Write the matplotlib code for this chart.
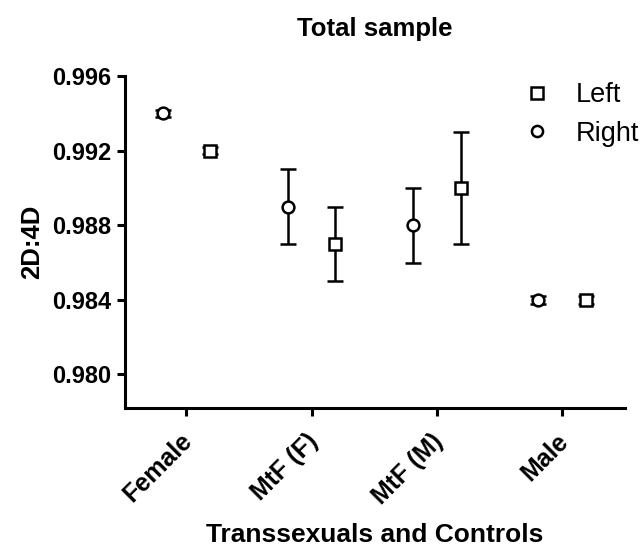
import numpy as np
import matplotlib.pyplot as plt
import matplotlib.transforms as mtransforms
from matplotlib.lines import Line2D

plt.rcParams['font.family'] = ['Liberation Sans', 'DejaVu Sans']

groups = ["Female", "MtF (F)", "MtF (M)", "Male"]
left_mean = [0.992, 0.987, 0.990, 0.984]
left_err = [0.0002, 0.002, 0.003, 0.0002]
right_mean = [0.994, 0.989, 0.988, 0.984]
right_err = [0.0002, 0.002, 0.002, 0.0002]

x = np.arange(len(groups))
off = 0.19

fig = plt.figure(figsize=(6.44, 5.47), dpi=100)
ax = fig.add_axes([0.194, 0.254, 0.776, 0.607])

style = dict(mfc="white", mec="black", mew=1.8, ms=8.5, ecolor="black",
             elinewidth=1.8, capsize=5.8, capthick=1.8)
ax.errorbar(x + off, left_mean, yerr=left_err, fmt="s", **style)
ax.errorbar(x - off, right_mean, yerr=right_err, fmt="o", **style)

ax.set_xlim(-0.49, 3.5)
ax.set_ylim(0.9782, 0.996)
ax.set_yticks([0.980, 0.984, 0.988, 0.992, 0.996])
ax.set_yticklabels(["0.980", "0.984", "0.988", "0.992", "0.996"], fontweight="bold", fontsize=17)
ax.set_xticks(x)
ax.set_xticklabels(groups, rotation=45, ha="right", rotation_mode="anchor",
                   fontweight="bold", fontsize=18)

for s in ["top", "right"]:
    ax.spines[s].set_visible(False)
for s in ["left", "bottom"]:
    ax.spines[s].set_linewidth(2.2)
ax.tick_params(width=2.2, length=6)
ax.tick_params(axis="x", pad=9)

# nudge the slanted labels a little to the left
shift = mtransforms.ScaledTranslation(-0.06, 0, fig.dpi_scale_trans)
for lab in ax.get_xticklabels():
    lab.set_transform(lab.get_transform() + shift)

ax.set_title("Total sample", fontweight="bold", fontsize=18.5, pad=29)
ax.set_ylabel("2D:4D", fontweight="bold", fontsize=18.5, labelpad=6)
ax.set_xlabel("Transsexuals and Controls", fontweight="bold", fontsize=19, labelpad=10)

handles = [Line2D([], [], ls="none", marker="s", mfc="white", mec="black", mew=1.8, ms=8),
           Line2D([], [], ls="none", marker="o", mfc="white", mec="black", mew=1.8, ms=8)]
ax.legend(handles, ["Left", "Right"], loc="upper left", bbox_to_anchor=(0.782, 1.014),
          frameon=False, fontsize=19.5, handletextpad=1.0, labelspacing=0.47,
          handlelength=0.8, borderaxespad=0)

fig.savefig("out.png", dpi=100)
